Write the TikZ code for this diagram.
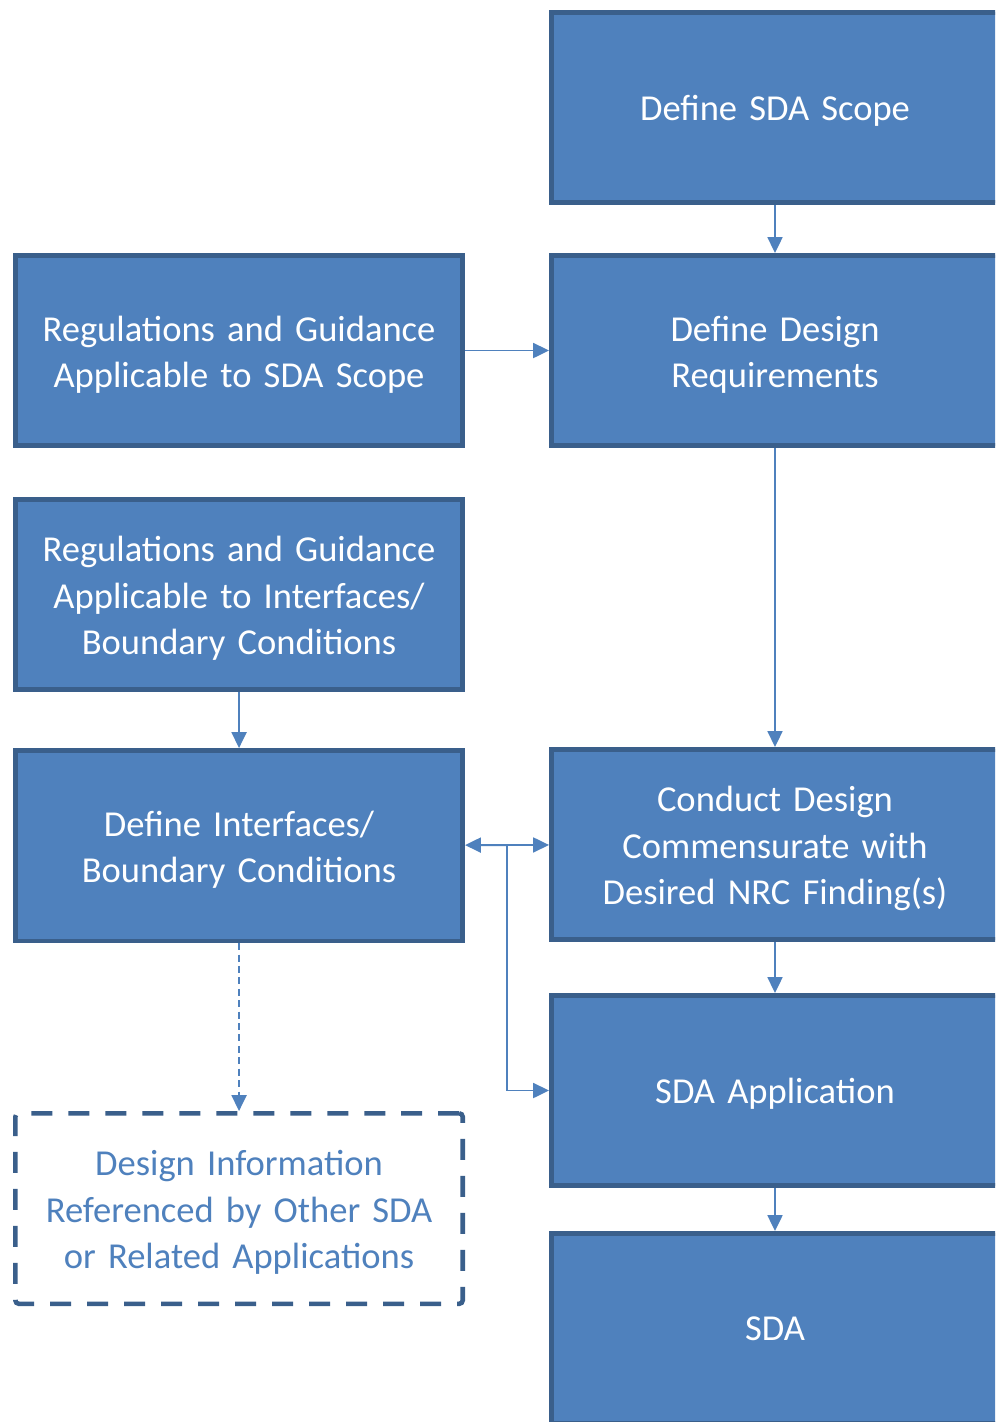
\documentclass[tikz,border=0pt]{standalone}
\usepackage{fontspec}
\setmainfont{Carlito}
\usepackage{tikz}
\usetikzlibrary{arrows.meta, positioning, calc}
\definecolor{sda_blue}{HTML}{4F81BD}
\definecolor{sda_darkblue}{HTML}{3A5F8B}
\colorlet{sdablue}{sda_blue}
\colorlet{sdadark}{sda_darkblue}
\tikzset{
  stepbox/.style={rectangle,draw=sdadark,line width=2.6pt,fill=sdablue,text=white,minimum width=8.95cm,minimum height=3.81cm,text width=8.7cm,align=center,inner sep=0pt,font=\fontsize{20.8pt}{26.4pt}\selectfont,execute at end node={\par\vspace{-0.16cm}}},
  refbox/.style={stepbox,fill=white,text=sdablue,dash pattern=on 0.42cm off 0.32cm,rounded corners=2pt},
  flow/.style={line width=1.1pt,draw=sdablue,-{Triangle[length=9pt,width=8.5pt]}},
  flowdash/.style={flow,dash pattern=on 4pt off 2.5pt},
  flowboth/.style={flow,{Triangle[length=9pt,width=8.5pt]}-{Triangle[length=9pt,width=8.5pt]}},
}

\begin{document}
\begin{tikzpicture}[x=0.02cm,y=-0.02cm]
    \useasboundingbox (0,0) rectangle (995,1422);
    \clip (0,0) rectangle (995,1422);
    % right column
    \node[stepbox] (SCOPE) at (775,107.5) {Define SDA Scope};
    \node[stepbox,below=0.96cm of SCOPE] (DESREQ) {Define Design\\Requirements};
    \node[stepbox,below=5.98cm of DESREQ] (CONDUCT) {Conduct Design\\Commensurate with\\Desired NRC Finding(s)};
    \node[stepbox,below=1.02cm of CONDUCT] (APP) {SDA Application};
    \node[stepbox,below=0.86cm of APP] (SDA) {SDA};
    % left column
    \node[stepbox,left=1.68cm of DESREQ] (REGSCOPE) {Regulations and Guidance\\Applicable to SDA Scope};
    \node[stepbox,below=0.98cm of REGSCOPE] (REGINTF) {Regulations and Guidance\\Applicable to Interfaces/\\Boundary Conditions};
    \node[stepbox,below=1.12cm of REGINTF] (INTF) {Define Interfaces/\\Boundary Conditions};
    \node[refbox,below=3.36cm of INTF] (REFINFO) {Design Information\\Referenced by Other SDA\\or Related Applications};
    % connectors
    \coordinate (JUNC) at ($(INTF.east)!0.5!(CONDUCT.west)$);
    \draw[flow] (SCOPE) -- (DESREQ);
    \draw[flow] (REGSCOPE) -- (DESREQ);
    \draw[flow] (DESREQ) -- (CONDUCT);
    \draw[flow] (REGINTF) -- (INTF);
    \draw[flowboth] (INTF) -- (CONDUCT);
    \draw[flow] (JUNC) |- (APP.west);
    \draw[flow] (CONDUCT) -- (APP);
    \draw[flow] (APP) -- (SDA);
    \draw[flowdash] (INTF) -- (REFINFO);
\end{tikzpicture}
\end{document}
